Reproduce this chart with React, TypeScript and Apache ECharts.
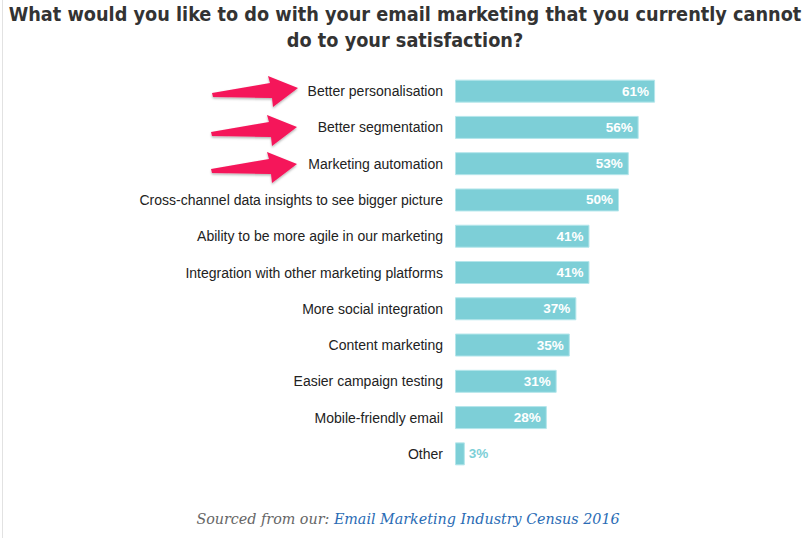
import React, { useEffect, useRef } from "react";
import * as echarts from "echarts";

const categories = [
  "Better personalisation",
  "Better segmentation",
  "Marketing automation",
  "Cross-channel data insights to see bigger picture",
  "Ability to be more agile in our marketing",
  "Integration with other marketing platforms",
  "More social integration",
  "Content marketing",
  "Easier campaign testing",
  "Mobile-friendly email",
  "Other",
];
const values = [61, 56, 53, 50, 41, 41, 37, 35, 31, 28, 3];

const titleLines = [
  "What would you like to do with your email marketing that you currently cannot",
  "do to your satisfaction?",
];
const sourcePrefix = "Sourced from our: ";
const sourceLink = "Email Marketing Industry Census 2016";

const BAR = "#7dcfd7";

function arrow(tx: number, ty: number) {
  const pts = [
    [-86, 5],
    [-28, -5],
    [-30, -12],
    [0, 0],
    [-25, 19],
    [-26, 10],
    [-85, 9],
  ];
  return {
    type: "polygon",
    shape: { points: pts.map(([x, y]) => [tx + x, ty + y]) },
    style: { fill: "#f5175a", shadowBlur: 2, shadowColor: "rgba(0,0,0,0.3)", shadowOffsetY: 1.5 },
    silent: true,
  };
}

export default function App() {
  const ref = useRef<HTMLDivElement>(null);
  useEffect(() => {
    if (!ref.current) return;
    const chart = echarts.init(ref.current, null, { renderer: "svg" });
    chart.setOption({
      animation: false,
      backgroundColor: "#ffffff",
      grid: { left: 455, right: 27, top: 73, bottom: 66, containLabel: false },
      xAxis: { type: "value", min: 0, max: 100, show: false },
      yAxis: {
        type: "category",
        inverse: true,
        data: categories,
        axisLine: { show: false },
        axisTick: { show: false },
        splitLine: { show: false },
        axisLabel: {
          margin: 12,
          color: "#222222",
          fontFamily: "Liberation Sans, Arial, sans-serif",
          fontSize: 14,
        },
      },
      series: [
        {
          type: "bar",
          barWidth: 23,
          data: values.map((v) => ({
            value: v,
            label:
              v < 10
                ? {
                    show: true,
                    position: "right",
                    distance: 4,
                    color: BAR,
                    fontWeight: "bold",
                    fontSize: 13.5,
                    fontFamily: "Liberation Sans, Arial, sans-serif",
                    formatter: "{c}%",
                  }
                : undefined,
          })),
          itemStyle: { color: BAR, borderColor: "#b5e6eb", borderWidth: 1 },
          label: {
            show: true,
            position: "insideRight",
            distance: 6,
            color: "#ffffff",
            fontWeight: "bold",
            fontSize: 13.5,
            fontFamily: "Liberation Sans, Arial, sans-serif",
            formatter: "{c}%",
          },
        },
      ],
      graphic: [
        {
          type: "line",
          shape: { x1: 2.5, y1: 0, x2: 2.5, y2: 538 },
          style: { stroke: "#e2e2e2", lineWidth: 1 },
          silent: true,
        },
        {
          type: "text",
          x: 405,
          y: 1,
          style: {
            text: titleLines.join("\n"),
            fontFamily: "DejaVu Sans Condensed, DejaVu Sans, sans-serif",
            fontWeight: "bold",
            fontSize: 19.7,
            lineHeight: 26,
            fill: "#333333",
            align: "center",
            verticalAlign: "top",
          },
          silent: true,
        },
        arrow(298, 88),
        arrow(297, 127),
        arrow(297, 164),
        {
          type: "text",
          x: 408,
          y: 519,
          style: {
            text: `{a|${sourcePrefix}}{b|${sourceLink}}`,
            align: "center",
            verticalAlign: "middle",
            rich: {
              a: {
                fontFamily: "DejaVu Serif, serif",
                fontStyle: "italic",
                fontSize: 14.3,
                fill: "#666666",
                color: "#666666",
              },
              b: {
                fontFamily: "DejaVu Serif, serif",
                fontStyle: "italic",
                fontSize: 14.3,
                fill: "#2a6cb5",
                color: "#2a6cb5",
              },
            },
          },
          silent: true,
        },
      ],
    });
    return () => chart.dispose();
  }, []);
  return (
    <div
      ref={ref}
      style={{ position: "fixed", left: 0, top: 0, width: 810, height: 538 }}
    />
  );
}
